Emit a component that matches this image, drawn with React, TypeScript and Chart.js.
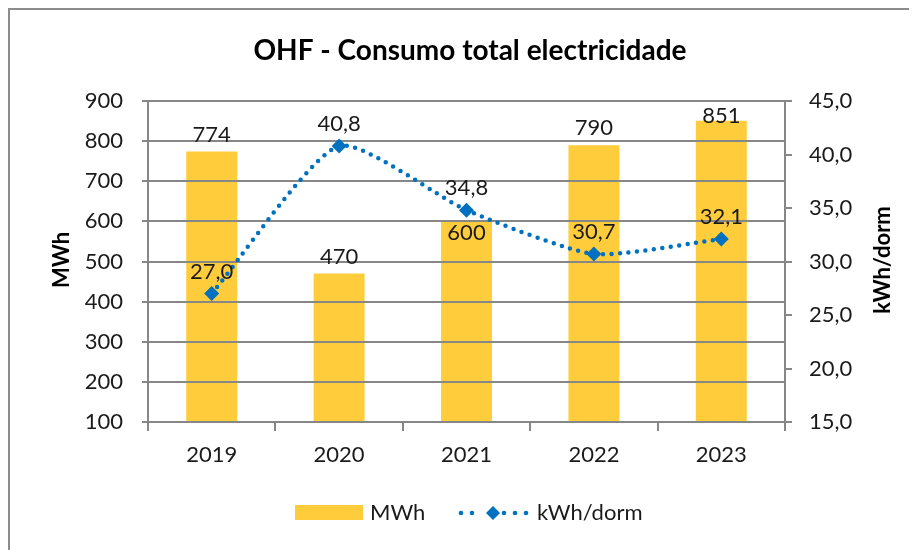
import React, { useEffect, useRef } from "react";
import { Chart, registerables } from "chart.js";

Chart.register(...registerables);

const chartTitle = "OHF - Consumo total electricidade";
const categories = ["2019", "2020", "2021", "2022", "2023"];
const mwhLabel = "MWh";
const mwhValues = [774, 470, 600, 790, 851];
const kwhLabel = "kWh/dorm";
const kwhPerDormValues = [27.0, 40.8, 34.8, 30.7, 32.1];
const leftAxisTitle = "MWh";
const rightAxisTitle = "kWh/dorm";
const leftAxisRange = { min: 100, max: 900, step: 100 };
const rightAxisRange = { min: 15, max: 45, step: 5 };

const FONT = "Lato, 'Open Sans', sans-serif";
const BAR_COLOR = "#FFCD3C";
const LINE_COLOR = "#0070C0";
const AXIS_COLOR = "#878787";
const TEXT_COLOR = "#1a1a1a";
const TICK_SIZE = 22;

const fmtComma = (v: number) => v.toFixed(1).replace(".", ",");

function drawDiamond(ctx: CanvasRenderingContext2D, x: number, y: number, r: number) {
  ctx.beginPath();
  ctx.moveTo(x - r, y);
  ctx.lineTo(x, y - r);
  ctx.lineTo(x + r, y);
  ctx.lineTo(x, y + r);
  ctx.closePath();
  ctx.fill();
}

const decorPlugin = {
  id: "decor",
  afterDatasetDraw(chart: any, args: any) {
    if (args.index !== 0) return;
    // gridlines drawn over the bars
    const ctx = chart.ctx as CanvasRenderingContext2D;
    const area = chart.chartArea;
    const y = chart.scales.y;
    ctx.save();
    ctx.strokeStyle = AXIS_COLOR;
    ctx.lineWidth = 2;
    y.ticks.forEach((t: any) => {
      const py = Math.round(y.getPixelForValue(t.value));
      ctx.beginPath();
      ctx.moveTo(area.left, py);
      ctx.lineTo(area.right, py);
      ctx.stroke();
    });
    ctx.restore();
  },
  afterDraw(chart: any) {
    const ctx = chart.ctx as CanvasRenderingContext2D;
    const area = chart.chartArea;
    ctx.save();
    // title
    ctx.fillStyle = "#000";
    ctx.font = `bold 28px ${FONT}`;
    ctx.textAlign = "center";
    ctx.textBaseline = "middle";
    ctx.fillText(chartTitle, 460, 41);

    // axis titles (both read bottom-to-top)
    ctx.font = `bold 22px ${FONT}`;
    ctx.save();
    ctx.translate(52, 250);
    ctx.rotate(-Math.PI / 2);
    ctx.fillText(leftAxisTitle, 0, 0);
    ctx.restore();
    ctx.save();
    ctx.translate(873, 250);
    ctx.rotate(-Math.PI / 2);
    ctx.fillText(rightAxisTitle, 0, 0);
    ctx.restore();

    // data labels
    ctx.font = `${TICK_SIZE}px ${FONT}`;
    ctx.fillStyle = TEXT_COLOR;
    const barMeta = chart.getDatasetMeta(0);
    const lineMeta = chart.getDatasetMeta(1);
    const lineLabelPos = lineMeta.data.map((pt: any) => ({ x: pt.x, y: pt.y - 22 }));
    barMeta.data.forEach((bar: any, i: number) => {
      let cy = Math.max(bar.y - 17, area.top + 15);
      const lp = lineLabelPos[i];
      if (Math.abs(lp.y - cy) < 18 && Math.abs(lp.x - bar.x) < 40) {
        cy = bar.y + 12;
      }
      ctx.fillText(String(mwhValues[i]), bar.x, cy);
    });
    lineMeta.data.forEach((pt: any, i: number) => {
      ctx.fillText(fmtComma(kwhPerDormValues[i]), lineLabelPos[i].x, lineLabelPos[i].y);
    });

    // legend
    const ly = 503;
    ctx.fillStyle = BAR_COLOR;
    ctx.fillRect(285, ly - 8, 68, 15);
    ctx.fillStyle = TEXT_COLOR;
    ctx.textAlign = "left";
    ctx.fillText(mwhLabel, 360, ly);
    ctx.fillStyle = LINE_COLOR;
    [451, 462, 494, 505, 516].forEach((dx) => {
      ctx.beginPath();
      ctx.arc(dx, ly, 2.3, 0, Math.PI * 2);
      ctx.fill();
    });
    drawDiamond(ctx, 483, ly, 7);
    ctx.fillStyle = TEXT_COLOR;
    ctx.fillText(kwhLabel, 527, ly);
    ctx.restore();
  },
};

export default function App() {
  const ref = useRef<HTMLCanvasElement | null>(null);

  useEffect(() => {
    document.documentElement.style.overflow = "hidden";
    const canvas = ref.current;
    if (!canvas) return;
    const tickFont = { family: FONT, size: TICK_SIZE };
    const chart = new Chart(canvas, {
      type: "bar",
      data: {
        labels: categories,
        datasets: [
          {
            type: "bar",
            label: mwhLabel,
            data: mwhValues,
            backgroundColor: BAR_COLOR,
            borderWidth: 0,
            barPercentage: 0.8,
            categoryPercentage: 0.5,
            yAxisID: "y",
            order: 2,
          },
          {
            type: "line",
            label: kwhLabel,
            data: kwhPerDormValues,
            borderColor: LINE_COLOR,
            backgroundColor: LINE_COLOR,
            borderWidth: 4.5,
            borderDash: [0, 8.5],
            borderCapStyle: "round",
            tension: 0.2,
            pointStyle: "rectRot",
            pointRadius: 7.5,
            pointBorderWidth: 0,
            pointBackgroundColor: LINE_COLOR,
            yAxisID: "y1",
            order: 1,
          },
        ] as any,
      },
      options: {
        animation: false,
        responsive: false,
        devicePixelRatio: 1,
        layout: { padding: { left: 68, right: 62, top: 91, bottom: 60 } },
        plugins: {
          legend: { display: false },
          title: { display: false },
          tooltip: { enabled: false },
        },
        scales: {
          x: {
            offset: true,
            grid: {
              offset: true,
              drawOnChartArea: false,
              drawTicks: true,
              tickLength: 9,
              color: AXIS_COLOR,
              lineWidth: 2,
            },
            border: { display: true, color: AXIS_COLOR, width: 2 },
            ticks: { font: tickFont, color: TEXT_COLOR, padding: 11, maxRotation: 0 },
            afterFit: (s: any) => {
              s.height = 60;
            },
          },
          y: {
            position: "left",
            min: leftAxisRange.min,
            max: leftAxisRange.max,
            ticks: {
              stepSize: leftAxisRange.step,
              font: tickFont,
              color: TEXT_COLOR,
              padding: 19,
            },
            grid: {
              drawOnChartArea: false,
              drawTicks: true,
              tickLength: 6,
              color: AXIS_COLOR,
              lineWidth: 2,
            },
            border: { display: true, color: AXIS_COLOR, width: 2 },
            afterFit: (s: any) => {
              s.width = 70;
            },
          },
          y1: {
            position: "right",
            min: rightAxisRange.min,
            max: rightAxisRange.max,
            ticks: {
              stepSize: rightAxisRange.step,
              font: tickFont,
              color: TEXT_COLOR,
              padding: 17,
              callback: (v: any) => fmtComma(Number(v)),
            },
            grid: {
              drawOnChartArea: false,
              drawTicks: true,
              tickLength: 7,
              color: AXIS_COLOR,
              lineWidth: 2,
            },
            border: { display: true, color: AXIS_COLOR, width: 2 },
            afterFit: (s: any) => {
              s.width = 70;
            },
          },
        },
      } as any,
      plugins: [decorPlugin],
    });
    return () => chart.destroy();
  }, []);

  return (
    <div
      style={{
        width: 907,
        height: 540,
        borderTop: "2px solid #8c8c8c",
        borderLeft: "2px solid #8c8c8c",
        background: "#fff",
      }}
    >
      <canvas ref={ref} width={907} height={532} style={{ display: "block" }} />
    </div>
  );
}
